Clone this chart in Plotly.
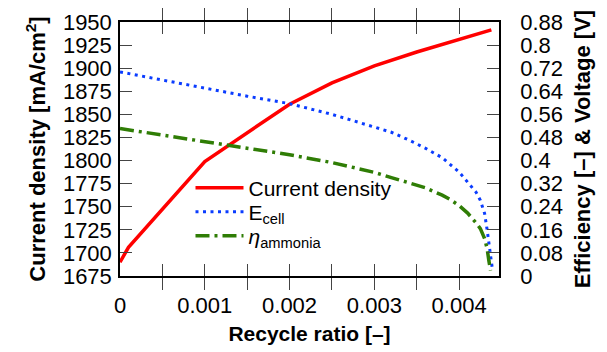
import plotly.graph_objects as go

# ---- data ----
x_current = [0, 0.0001, 0.001, 0.002, 0.0025, 0.003, 0.0035, 0.004, 0.00438]
current_density = [1690, 1706, 1799, 1861, 1884, 1902.5, 1917.5, 1931.5, 1941.5]

x_eff = [0, 0.0005, 0.001, 0.0015, 0.002, 0.0025, 0.003, 0.0032, 0.0034, 0.0036,
         0.0038, 0.0039, 0.004, 0.0041, 0.0042, 0.00425, 0.0043, 0.00433,
         0.00435, 0.00437, 0.00439]
e_cell = [0.707, 0.679, 0.650, 0.623, 0.597, 0.560, 0.516, 0.498, 0.472, 0.443,
          0.410, 0.386, 0.360, 0.325, 0.290, 0.262, 0.217, 0.160,
          0.112, 0.070, 0.028]

x_eta = [0, 0.0005, 0.001, 0.0015, 0.002, 0.0025, 0.003, 0.0032, 0.0034, 0.0036,
         0.0038, 0.0039, 0.004, 0.0041, 0.0042, 0.00425, 0.0043, 0.00433,
         0.00435, 0.00437]
eta_ammonia = [0.511, 0.489, 0.467, 0.444, 0.420, 0.393, 0.359, 0.341, 0.324, 0.306,
               0.280, 0.264, 0.244, 0.218, 0.184, 0.164, 0.130, 0.095,
               0.054, 0.019]

x_tickvals = [0, 0.0005, 0.001, 0.0015, 0.002, 0.0025, 0.003, 0.0035, 0.004]
x_ticktext = ["0", "", "0.001", "", "0.002", "", "0.003", "", "0.004"]
y_tickvals = [1675, 1700, 1725, 1750, 1775, 1800, 1825, 1850, 1875, 1900, 1925, 1950]
y2_tickvals = [0, 0.08, 0.16, 0.24, 0.32, 0.4, 0.48, 0.56, 0.64, 0.72, 0.8, 0.88]
y2_ticktext = ["0", "0.08", "0.16", "0.24", "0.32", "0.4", "0.48", "0.56", "0.64",
               "0.72", "0.8", "0.88"]

FONT = "Liberation Sans, Arial, sans-serif"
LEG_FONT = dict(family=FONT, size=21, color="black")

fig = go.Figure()
fig.add_trace(go.Scatter(x=x_current, y=current_density, mode="lines",
                         name="Current density", legend="legend",
                         line=dict(color="#ff0000", width=3.5)))
fig.add_trace(go.Scatter(x=x_eff, y=e_cell, mode="lines", yaxis="y2",
                         name="E<sub>cell</sub>", legend="legend2",
                         line=dict(color="#0a3cff", width=3, dash="3px,4.5px")))
fig.add_trace(go.Scatter(x=x_eta, y=eta_ammonia, mode="lines", yaxis="y2",
                         name="<i>η</i><sub>ammonia</sub>", legend="legend3",
                         line=dict(color="#2f7d05", width=3.5, dash="14px,5px,3px,5px")))

axis_common = dict(showgrid=False, zeroline=False, showline=True, linecolor="black",
                   linewidth=1.5, ticks="inside", ticklen=12, tickcolor="#444",
                   tickwidth=1.2, automargin=False,
                   tickfont=dict(family=FONT, size=22, color="black"))

def leg(ytop):
    return dict(x=0.186, y=ytop, xanchor="left", yanchor="middle",
                bgcolor="rgba(0,0,0,0)", font=LEG_FONT, itemwidth=48,
                borderwidth=0)

# page body has an 8px margin, so the figure is sized to fill the rest of the window
fig.update_layout(
    width=599, height=344,
    margin=dict(l=112, r=108, t=14, b=76, autoexpand=False),
    paper_bgcolor="white", plot_bgcolor="white",
    showlegend=True,
    legend=leg(0.346),
    legend2=leg(0.252),
    legend3=leg(0.157),
    xaxis=dict(range=[0, 0.00447], tickmode="array", tickvals=x_tickvals,
               ticktext=x_ticktext, mirror="allticks", ticklabelstandoff=9,
               title=dict(text="<b>Recycle ratio [–]</b>", standoff=9,
                          font=dict(family=FONT, size=21, color="black")),
               **axis_common),
    yaxis=dict(range=[1675, 1950], tickmode="array", tickvals=y_tickvals,
               mirror=True, ticklabelstandoff=2,
               title=dict(text="<b>Current density [mA/cm<sup>2</sup>]</b>", standoff=11,
                          font=dict(family=FONT, size=22, color="black")),
               **axis_common),
    yaxis2=dict(range=[0, 0.88], tickmode="array", tickvals=y2_tickvals,
                ticktext=y2_ticktext, overlaying="y", side="right",
                ticklabelstandoff=15,
                title=dict(text="<b>Efficiency [–] & Voltage [V]</b>", standoff=13,
                           font=dict(family=FONT, size=22, color="black")),
                **axis_common),
)

fig.write_html("out.html")
